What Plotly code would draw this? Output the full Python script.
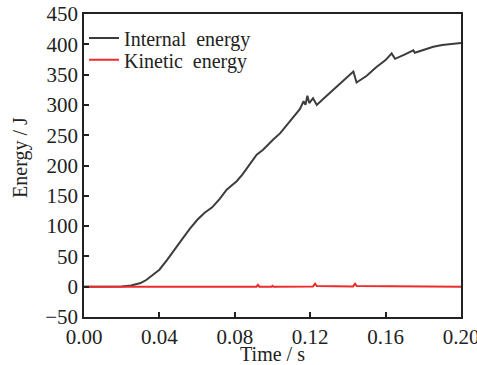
import plotly.graph_objects as go

# Internal energy (J) vs time (s)
internal_t = [0, 0.015, 0.02, 0.025, 0.03, 0.033, 0.036, 0.04, 0.044, 0.048, 0.052, 0.056,
              0.06, 0.064, 0.068, 0.072, 0.0757, 0.078, 0.081, 0.084, 0.088, 0.0916, 0.095,
              0.098, 0.1004, 0.104, 0.107, 0.1093, 0.112, 0.1145, 0.1165, 0.1175, 0.1185,
              0.1195, 0.1215, 0.1235, 0.127, 0.1323, 0.137, 0.1429, 0.1446, 0.15, 0.155,
              0.16, 0.1632, 0.165, 0.17, 0.1747, 0.1755, 0.18, 0.1853, 0.19, 0.1959, 0.2]
internal_e = [0, 0, 0.5, 2, 6, 11, 18, 28, 44, 60, 78, 95,
              110, 122, 131, 145, 160, 166, 174, 185, 203, 218, 226,
              236, 243, 253, 265, 273, 285, 293, 306, 300, 315,
              303, 311, 300, 310, 325, 338, 355, 337, 348, 362,
              374, 385, 376, 383, 390, 386, 391, 396, 399, 401, 402]

# Kinetic energy (J) vs time (s)
kinetic_t = [0, 0.02, 0.057, 0.058, 0.059, 0.076, 0.077, 0.078, 0.0915, 0.0923, 0.093,
             0.0995, 0.1, 0.1005, 0.1215, 0.1226, 0.1235, 0.1428, 0.1438, 0.1447, 0.2]
kinetic_e = [0, 0, 0, 1.2, 0, 0, 1.2, 0, 0, 3, 0,
             0, 1.5, 0, 0.5, 5, 1, 0.5, 5, 1, 0]

x_tickvals = [0, 0.04, 0.08, 0.12, 0.16, 0.2]
x_ticktext = ["0.00", "0.04", "0.08", "0.12", "0.16", "0.20"]

FONT = "Liberation Serif, Times New Roman, serif"

fig = go.Figure()
fig.add_trace(go.Scatter(x=internal_t, y=internal_e, mode="lines", name="Internal  energy",
                         line=dict(color="#3c3c3c", width=2), legend="legend"))
fig.add_trace(go.Scatter(x=kinetic_t, y=kinetic_e, mode="lines", name="Kinetic  energy",
                         line=dict(color="#ee2b2b", width=2), legend="legend2"))

axis_common = dict(showline=True, linecolor="#222", linewidth=1.5, mirror=True,
                   ticks="inside", ticklen=5, tickwidth=1.5, tickcolor="#222",
                   showgrid=False, zeroline=False, automargin=False,
                   ticklabeloverflow="allow",
                   tickfont=dict(family=FONT, size=21, color="#222"))

leg_common = dict(xanchor="left", yanchor="middle", bgcolor="rgba(0,0,0,0)",
                  font=dict(family=FONT, size=20, color="#222"), borderwidth=0)

fig.update_layout(
    template="none",
    width=477, height=365,
    margin=dict(l=84, r=16, t=14, b=48, autoexpand=False),
    paper_bgcolor="white", plot_bgcolor="white",
    font=dict(family=FONT, size=20, color="#222"),
    showlegend=True,
    legend=dict(x=0.0, y=0.921, **leg_common),
    legend2=dict(x=0.0, y=0.849, **leg_common),
    xaxis=dict(range=[0, 0.2], tickvals=x_tickvals, ticktext=x_ticktext,
               title=dict(text="Time / s", standoff=2, font=dict(family=FONT, size=20)),
               **axis_common),
    yaxis=dict(range=[-50, 450], dtick=50, **axis_common),
    annotations=[dict(text="Energy / J", xref="paper", yref="paper", x=-0.167, y=0.525,
                      xanchor="center", yanchor="middle", textangle=-90, showarrow=False,
                      font=dict(family=FONT, size=20, color="#222"))],
)

fig.write_html("out.html", config={"displayModeBar": False},
               post_script="document.body.style.margin='0';document.body.style.padding='0';"
                           "document.body.style.overflow='hidden';")
